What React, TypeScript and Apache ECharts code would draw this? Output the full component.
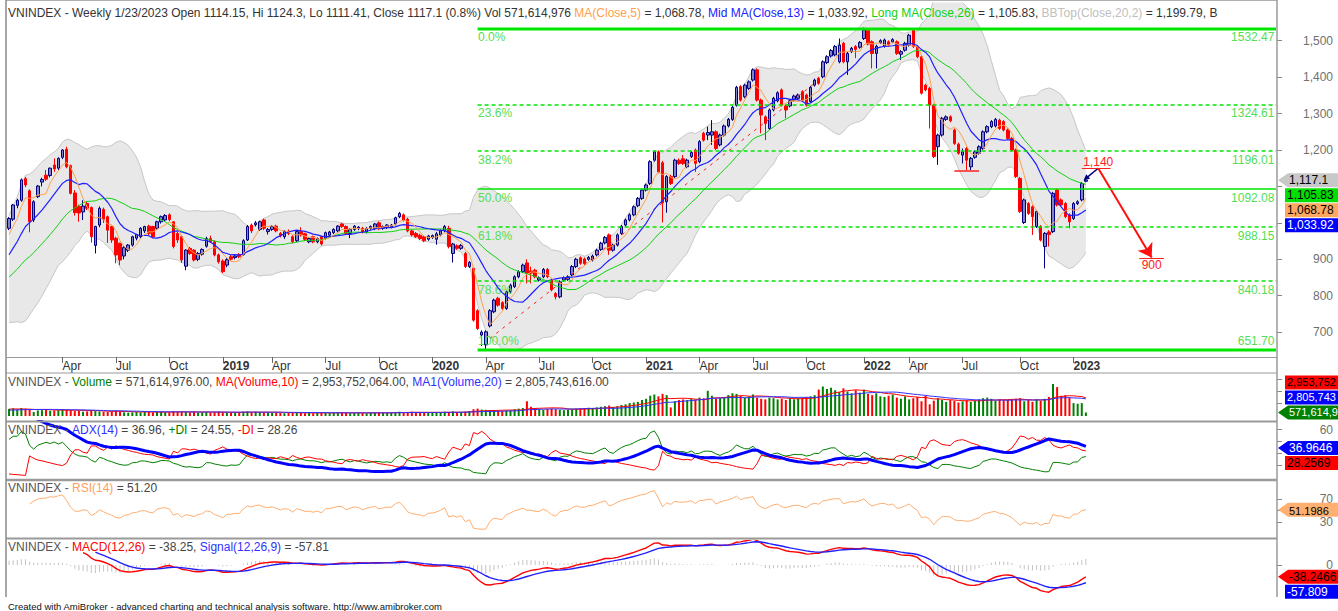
import React, { useEffect, useRef } from "react";
import * as echarts from "echarts";

// ---------------- data ----------------
const FIRST_FRIDAY = "2018-01-05";
const SKIPPED_FRIDAYS = ["2019-02-08", "2022-02-04"]; // Tet weeks without trading
const FUTURE_SLOTS = 46;
const MONTH_NAMES = ["Jan", "Feb", "Mar", "Apr", "May", "Jun", "Jul", "Aug", "Sep", "Oct", "Nov", "Dec"];

// hidden warm-up weeks (Jul-Dec 2017): [open, high, low, close]
const warmupOHLC = [
  [770, 782, 764, 776], [776, 780, 768, 772], [772, 776, 765, 770], [770, 784, 766, 780], [780, 783, 771, 775],
  [775, 780, 770, 775], [775, 786, 771, 782], [782, 790, 778, 785], [785, 800, 781, 797], [797, 809, 792, 805],
  [805, 812, 801, 808], [808, 811, 800, 803], [803, 808, 799, 804], [804, 814, 801, 810], [810, 817, 806, 813],
  [813, 829, 809, 825], [825, 841, 821, 837], [837, 855, 833, 850], [850, 870, 845, 865], [866, 930, 862, 925],
  [925, 958, 920, 952], [952, 960, 947, 955], [955, 958, 930, 935], [935, 964, 930, 960], [960, 963, 945, 950],
  [950, 988, 946, 984],
];
const warmupVolume = [700, 650, 600, 650, 600, 650, 700, 650, 750, 800, 750, 700, 700, 750, 800, 850, 900, 1000, 1100, 1300, 1400, 1200, 1000, 1050, 900, 1100];

// weekly [open, high, low, close]
const ohlc2018 = [
  [985, 1016, 980, 1012], [1010, 1052, 1005, 1049], [1048, 1066, 1040, 1062], [1062, 1122, 1058, 1118], [1121, 1126, 1098, 1104],
  [1088, 1092, 974, 1003], [1008, 1062, 1002, 1058], [1072, 1104, 1068, 1101], [1112, 1124, 1100, 1119], [1131, 1145, 1115, 1120],
  [1130, 1152, 1125, 1150], [1159, 1177, 1140, 1148], [1150, 1180, 1145, 1177], [1180, 1202, 1175, 1200], [1202, 1209, 1150, 1154],
  [1157, 1160, 1078, 1081], [1082, 1090, 1020, 1028], [1045, 1050, 1003, 1027], [1030, 1062, 1008, 1046], [1053, 1058, 1035, 1040],
  [1042, 1045, 946, 962], [938, 992, 916, 990], [994, 1045, 988, 1040], [1037, 1042, 1000, 1010], [1017, 1020, 945, 980],
  [990, 992, 945, 953], [958, 962, 889, 912], [944, 946, 884, 898], [909, 936, 900, 932], [925, 942, 920, 939],
  [939, 965, 935, 962], [958, 970, 952, 968], [962, 988, 958, 985], [978, 992, 972, 990], [991, 995, 965, 971],
  [990, 992, 958, 962], [985, 1006, 980, 1003], [1003, 1020, 998, 1017], [1008, 1024, 1004, 1020], [1022, 1026, 1004, 1009],
  [1003, 1005, 930, 935], [971, 975, 945, 953], [962, 966, 890, 898], [881, 928, 870, 925], [930, 934, 912, 916],
  [925, 928, 894, 898], [900, 920, 895, 916], [914, 930, 910, 927], [936, 962, 932, 957], [957, 965, 945, 948],
  [948, 952, 908, 912], [912, 916, 888, 893],
];
const ohlc2019 = [
  [895, 900, 862, 866], [884, 903, 878, 899], [907, 912, 896, 900], [905, 912, 900, 909], [913, 917, 903, 907],
  [913, 955, 910, 951], [953, 994, 950, 990], [994, 998, 972, 978], [995, 1005, 990, 1000], [982, 1006, 978, 1003],
  [1008, 1012, 980, 985], [976, 986, 968, 982], [982, 994, 978, 990], [991, 995, 974, 978], [971, 975, 960, 964],
  [962, 980, 956, 976], [977, 982, 966, 971], [962, 966, 944, 948], [951, 980, 947, 976], [976, 988, 962, 967],
  [970, 973, 950, 955], [948, 960, 944, 957], [962, 965, 944, 948], [948, 960, 944, 957], [962, 965, 938, 942],
  [958, 976, 954, 973], [966, 978, 962, 975], [973, 985, 969, 982], [978, 994, 974, 991], [997, 1000, 986, 990],
  [990, 993, 967, 971], [971, 985, 958, 982], [982, 994, 978, 991], [985, 991, 980, 988], [985, 989, 971, 975],
  [975, 988, 971, 985], [985, 993, 981, 990], [984, 1000, 980, 997], [1000, 1004, 980, 984], [985, 993, 981, 990],
  [987, 997, 983, 994], [989, 997, 985, 994], [997, 1017, 993, 1014], [1017, 1030, 1013, 1026], [1022, 1026, 1004, 1008],
  [1010, 1014, 974, 978], [978, 982, 963, 967], [971, 975, 958, 962], [966, 970, 953, 957], [962, 966, 947, 951],
  [955, 967, 951, 964], [960, 968, 956, 965],
];
const ohlc2020 = [
  [955, 975, 940, 970], [967, 982, 963, 978], [978, 994, 974, 990], [985, 992, 930, 935], [916, 945, 891, 942],
  [937, 941, 926, 930], [930, 942, 926, 938], [916, 920, 876, 880], [880, 895, 876, 891], [875, 879, 729, 733],
  [759, 763, 706, 710], [692, 705, 662, 700], [665, 705, 652, 701], [717, 763, 713, 759], [756, 792, 752, 788],
  [793, 797, 770, 774], [781, 785, 761, 765], [765, 815, 761, 811], [811, 833, 807, 829], [825, 856, 821, 852],
  [852, 870, 848, 866], [866, 888, 862, 884], [890, 900, 834, 861], [868, 880, 834, 862], [870, 874, 848, 852],
  [843, 853, 839, 849], [852, 876, 848, 872], [872, 876, 848, 852], [843, 847, 812, 816], [806, 810, 790, 797],
  [797, 842, 793, 838], [843, 853, 839, 849], [845, 856, 841, 852], [857, 884, 853, 880], [880, 904, 876, 900],
  [904, 908, 885, 889], [901, 905, 884, 888], [900, 909, 896, 905], [898, 913, 894, 909], [912, 929, 908, 925],
  [927, 948, 923, 944], [945, 964, 941, 960], [967, 971, 912, 925], [925, 943, 921, 939], [939, 971, 935, 967],
  [971, 994, 967, 990], [994, 1012, 990, 1008], [1008, 1026, 1004, 1022], [1022, 1048, 1018, 1044], [1047, 1071, 1043, 1067],
  [1067, 1094, 1063, 1090], [1090, 1108, 1086, 1104],
];
const ohlc2021 = [
  [1108, 1172, 1104, 1168], [1172, 1199, 1168, 1195], [1195, 1199, 1136, 1140], [1165, 1170, 1001, 1055], [1058, 1131, 1028, 1127],
  [1127, 1132, 1104, 1108], [1127, 1176, 1123, 1172], [1172, 1177, 1159, 1163], [1176, 1186, 1159, 1163], [1154, 1176, 1150, 1172],
  [1182, 1197, 1178, 1193], [1200, 1204, 1140, 1163], [1168, 1227, 1164, 1223], [1246, 1250, 1223, 1227], [1241, 1264, 1227, 1248],
  [1241, 1282, 1214, 1250], [1250, 1254, 1200, 1204], [1214, 1245, 1210, 1241], [1241, 1270, 1237, 1266], [1266, 1288, 1262, 1284],
  [1284, 1321, 1280, 1317], [1323, 1376, 1319, 1372], [1374, 1378, 1333, 1337], [1346, 1382, 1342, 1378], [1369, 1391, 1365, 1387],
  [1392, 1424, 1388, 1420], [1420, 1424, 1333, 1337], [1337, 1341, 1246, 1296], [1291, 1295, 1227, 1273], [1259, 1314, 1255, 1310],
  [1310, 1346, 1306, 1342], [1335, 1361, 1331, 1357], [1365, 1369, 1319, 1323], [1321, 1325, 1287, 1310], [1321, 1339, 1317, 1335],
  [1337, 1352, 1333, 1348], [1342, 1355, 1338, 1351], [1360, 1364, 1333, 1337], [1351, 1355, 1319, 1323], [1333, 1376, 1329, 1372],
  [1378, 1396, 1374, 1392], [1397, 1401, 1379, 1383], [1401, 1446, 1397, 1442], [1440, 1460, 1436, 1456], [1458, 1477, 1454, 1473],
  [1461, 1488, 1457, 1484], [1442, 1506, 1438, 1488], [1493, 1497, 1438, 1442], [1442, 1469, 1406, 1465], [1470, 1483, 1466, 1479],
  [1484, 1488, 1452, 1476], [1482, 1499, 1478, 1495],
];
const ohlc2022 = [
  [1506, 1536, 1502, 1529], [1529, 1533, 1487, 1491], [1497, 1501, 1424, 1465], [1465, 1489, 1424, 1485], [1495, 1504, 1491, 1500],
  [1485, 1506, 1481, 1502], [1497, 1501, 1484, 1488], [1497, 1507, 1493, 1503], [1497, 1501, 1461, 1465], [1463, 1474, 1447, 1470],
  [1474, 1497, 1470, 1493], [1488, 1519, 1484, 1515], [1529, 1532, 1480, 1484], [1484, 1488, 1452, 1456], [1456, 1460, 1352, 1356],
  [1378, 1382, 1361, 1365], [1369, 1373, 1259, 1323], [1323, 1327, 1178, 1182], [1209, 1245, 1159, 1241], [1241, 1291, 1237, 1287],
  [1284, 1295, 1280, 1291], [1291, 1295, 1276, 1280], [1255, 1259, 1214, 1218], [1216, 1220, 1187, 1191], [1186, 1204, 1163, 1195],
  [1204, 1208, 1145, 1172], [1154, 1181, 1145, 1177], [1180, 1199, 1176, 1195], [1191, 1213, 1187, 1209], [1204, 1254, 1200, 1250],
  [1250, 1268, 1246, 1264], [1264, 1282, 1260, 1278], [1266, 1288, 1262, 1284], [1282, 1286, 1255, 1259], [1278, 1282, 1251, 1255],
  [1255, 1259, 1228, 1232], [1232, 1236, 1196, 1200], [1200, 1204, 1123, 1127], [1122, 1126, 1027, 1031], [1001, 1067, 997, 1063],
  [1053, 1057, 1022, 1026], [1044, 1048, 967, 1017], [990, 1035, 986, 1031], [990, 994, 949, 953], [935, 975, 875, 971],
  [975, 980, 935, 968], [976, 1085, 972, 1081], [1090, 1094, 1045, 1049], [1063, 1067, 1045, 1049], [1053, 1057, 1013, 1017],
  [1022, 1026, 985, 1003], [1012, 1057, 1008, 1053], [1053, 1062, 1049, 1058], [1063, 1112, 1059, 1108], [1114.15, 1124.3, 1111.41, 1117.1],
];

// weekly volume, millions of shares
const volume2018 = [1150, 1250, 1100, 1300, 1200, 1050, 650, 900, 950, 1000, 850, 900, 950, 1100, 1050, 950, 800, 850, 700, 750, 900, 800, 750, 700, 650, 750, 850, 700, 600, 550, 600, 650, 600, 700, 650, 600, 700, 650, 600, 600, 800, 700, 750, 650, 600, 650, 550, 600, 650, 600, 650, 700];
const volume2019 = [600, 550, 500, 550, 600, 700, 750, 650, 700, 650, 600, 550, 500, 550, 500, 450, 500, 550, 550, 500, 450, 500, 450, 500, 550, 550, 500, 550, 600, 550, 500, 450, 500, 550, 500, 450, 500, 550, 600, 550, 500, 550, 650, 700, 600, 650, 700, 600, 550, 550, 500, 550];
const volume2020 = [600, 650, 700, 650, 750, 600, 650, 700, 800, 1100, 1200, 1050, 1000, 950, 900, 850, 800, 900, 950, 1100, 1200, 1300, 2400, 1500, 1300, 1100, 1000, 1150, 1200, 1100, 1000, 950, 1050, 1100, 1200, 1250, 1300, 1350, 1300, 1400, 1500, 1600, 1700, 1450, 1600, 1800, 1900, 2100, 2200, 2300, 2600, 2800];
const volume2021 = [3300, 3500, 3200, 3600, 3400, 1400, 2400, 2600, 2700, 2600, 2800, 2700, 3000, 2900, 4100, 3300, 2800, 2900, 3000, 3400, 3700, 3600, 3300, 3000, 3200, 3500, 3000, 2800, 2700, 3000, 2900, 2700, 2800, 2600, 2900, 2700, 2900, 3000, 3100, 3200, 3400, 4300, 4800, 4400, 4600, 4200, 3900, 4500, 4000, 3700, 4200, 3800];
const volume2022 = [4300, 3600, 3400, 3700, 3200, 3100, 3300, 3500, 3000, 2800, 3200, 2700, 2900, 3100, 2400, 3300, 1900, 2500, 2900, 2600, 2300, 2600, 2500, 2200, 2400, 2600, 2300, 2500, 2700, 2900, 3000, 2800, 2500, 2700, 2600, 2600, 2700, 2800, 2900, 2400, 2600, 2300, 2700, 2500, 2800, 3100, 5200, 4700, 3300, 3400, 3000, 2100, 2000, 2100, 571.6];

// Fibonacci retracement drawn on the chart
const fibPercentLabels = ["0.0%", "23.6%", "38.2%", "50.0%", "61.8%", "78.6%", "100.0%"];
const fibLevels = [1532.47, 1324.61, 1196.01, 1092.08, 988.15, 840.18, 651.7];
const fibStartBar = 114;

// hand-drawn annotations: [barIndex, price]
const trendFrom = [117, 683];
const trendTo = [196, 1383];
const supportFrom = [230, 1143];
const supportTo = [236, 1143];
const targetUpFrom = [262, 1122];
const targetUpTo = [265, 1150];
const targetDownTo = [278, 905];
const upLabel = { text: "1,140", at: [265, 1167], underlineFrom: [261, 1151], underlineTo: [268, 1151] };
const downLabel = { text: "900", at: [278, 884], overlineFrom: [275, 904], overlineTo: [281, 904] };

// tick values on right axes
const priceTicks = [700, 800, 900, 1000, 1100, 1200, 1300, 1400, 1500];
const priceLabels = [700, 800, 900, 1200, 1300, 1400, 1500];
const volumeTicks = [2000, 4000, 6000];
const adxTicks = [15, 30, 45, 60];
const adxLabels = [60];
const rsiTicks = [30, 50, 70];
const rsiLabels = [30, 70];
const macdTicks = [0];
const macdLabels = [0];

// last-value tags shown on the right edge (text as visible at the edge)
const priceTags = [
  { text: "1,117.1", value: 1117.1, bg: "#c8c8c8", fg: "#000", arrow: true },
  { text: "1,105.83", value: 1105.83, bg: "#00e000", fg: "#000", arrow: false },
  { text: "1,068.78", value: 1068.78, bg: "#ffa860", fg: "#000", arrow: false },
  { text: "1,033.92", value: 1033.92, bg: "#0000ff", fg: "#fff", arrow: false },
];
const volumeTags = [
  { text: "2,953,752", value: 2953.75, bg: "#ff0000", fg: "#000", arrow: false },
  { text: "2,805,743", value: 2805.74, bg: "#0000ff", fg: "#fff", arrow: false },
  { text: "571,614,9", value: 571.6, bg: "#008000", fg: "#fff", arrow: true },
];
const adxTags = [
  { text: "36.9646", value: 36.96, bg: "#0000ff", fg: "#fff", arrow: true },
  { text: "28.2569", value: 28.26, bg: "#ff0000", fg: "#000", arrow: false },
];
const rsiTags = [{ text: "51.1986", value: 51.2, bg: "#ffb070", fg: "#000", arrow: true }];
const macdTags = [
  { text: "-38.2466", value: -38.25, bg: "#ff0000", fg: "#000", arrow: true },
  { text: "-57.809", value: -57.81, bg: "#0000ff", fg: "#fff", arrow: false },
];

// where AmiBroker starts drawing each oscillator (visible bar index)
const LINE_START = { rsi: 5, adx: 6, macd: 18, signal: 21 };

// ---------------- helpers ----------------
const FONT = "'Liberation Sans', Arial, sans-serif";
const FIB_LINE = "#00e600";
const FIB_TEXT = "#55dd55";

function sma(a: number[], n: number) {
  return a.map((_, i) => {
    if (i < n - 1) return null;
    let s = 0;
    for (let k = i - n + 1; k <= i; k++) s += a[k];
    return s / n;
  });
}
function stdev(a: number[], n: number) {
  return a.map((_, i) => {
    if (i < n - 1) return null;
    let s = 0;
    for (let k = i - n + 1; k <= i; k++) s += a[k];
    const m = s / n;
    let q = 0;
    for (let k = i - n + 1; k <= i; k++) q += (a[k] - m) * (a[k] - m);
    return Math.sqrt(q / n);
  });
}
function ema(a: number[], n: number) {
  const k = 2 / (n + 1);
  let prev = a[0];
  return a.map((v, i) => (i === 0 ? (prev = v) : (prev = v * k + prev * (1 - k))));
}
function rsi(c: number[], n: number) {
  const out: (number | null)[] = c.map(() => null);
  let ag = 0, al = 0;
  for (let i = 1; i < c.length; i++) {
    const d = c[i] - c[i - 1];
    const g = Math.max(d, 0), l = Math.max(-d, 0);
    if (i <= n) {
      ag += g / n; al += l / n;
      if (i === n) out[i] = 100 - 100 / (1 + ag / al);
    } else {
      ag = (ag * (n - 1) + g) / n; al = (al * (n - 1) + l) / n;
      out[i] = al === 0 ? 100 : 100 - 100 / (1 + ag / al);
    }
  }
  return out;
}
function adx(h: number[], l: number[], c: number[], n: number) {
  const len = c.length;
  const pdi: (number | null)[] = Array(len).fill(null);
  const mdi: (number | null)[] = Array(len).fill(null);
  const ax: (number | null)[] = Array(len).fill(null);
  let trS = 0, pS = 0, mS = 0, acc = 0, prev = 0;
  for (let i = 1; i < len; i++) {
    const tr = Math.max(h[i] - l[i], Math.abs(h[i] - c[i - 1]), Math.abs(l[i] - c[i - 1]));
    const up = h[i] - h[i - 1], dn = l[i - 1] - l[i];
    const pdm = up > dn && up > 0 ? up : 0;
    const mdm = dn > up && dn > 0 ? dn : 0;
    if (i <= n) { trS += tr; pS += pdm; mS += mdm; }
    else { trS = trS - trS / n + tr; pS = pS - pS / n + pdm; mS = mS - mS / n + mdm; }
    if (i >= n) {
      const p = (100 * pS) / trS, m = (100 * mS) / trS;
      pdi[i] = p; mdi[i] = m;
      const dx = p + m === 0 ? 0 : (100 * Math.abs(p - m)) / (p + m);
      if (i < 2 * n - 1) acc += dx;
      else if (i === 2 * n - 1) { acc += dx; prev = acc / n; ax[i] = prev; }
      else { prev = (prev * (n - 1) + dx) / n; ax[i] = prev; }
    }
  }
  return { pdi, mdi, ax };
}

function buildCategories(count: number) {
  const skip = new Set(SKIPPED_FRIDAYS);
  const out: string[] = [];
  let t = Date.parse(FIRST_FRIDAY + "T00:00:00Z");
  while (out.length < count) {
    const s = new Date(t).toISOString().slice(0, 10);
    if (!skip.has(s)) out.push(s);
    t += 7 * 86400000;
  }
  return out;
}

type Tag = { text: string; value: number; bg: string; fg: string; arrow: boolean };
function tagGraphics(chart: any, tags: Tag[], axisIndex: number, dir: "down" | "up", fontSize = 12, textDy = 0) {
  const H = 15;
  const ys = tags.map((t) => chart.convertToPixel({ yAxisIndex: axisIndex }, t.value) as number);
  if (dir === "down") for (let i = 1; i < ys.length; i++) ys[i] = Math.max(ys[i], ys[i - 1] + H);
  else for (let i = ys.length - 2; i >= 0; i--) ys[i] = Math.min(ys[i], ys[i + 1] - H);
  const out: any[] = [];
  tags.forEach((t, i) => {
    const y = ys[i];
    if (t.arrow) {
      out.push({
        type: "polygon", z: 100,
        shape: { points: [[1278, y], [1288, y - 7], [1340, y - 7], [1340, y + 7], [1288, y + 7]] },
        style: { fill: t.bg },
      });
    } else {
      out.push({ type: "rect", z: 100, shape: { x: 1285, y: y - 7, width: 55, height: 14 }, style: { fill: t.bg } });
    }
    out.push({
      type: "text", z: 101, x: t.arrow ? 1289 : 1287, y: y + textDy,
      style: { text: t.text, fill: t.fg, fontSize, fontFamily: FONT, verticalAlign: "middle", align: "left" },
    });
  });
  return out;
}

function fibGraphics(chart: any, lastCat: number) {
  const x1 = chart.convertToPixel({ xAxisIndex: 0 }, fibStartBar) as number;
  const x2 = chart.convertToPixel({ xAxisIndex: 0 }, lastCat) as number;
  const last = fibLevels.length - 1;
  return fibLevels.map((lvl, k) => {
    const thick = k === 0 || k === last;
    const solid = thick || k === 3;
    const y = Math.round(chart.convertToPixel({ yAxisIndex: 0 }, lvl) as number);
    return {
      type: "line", z: 45, silent: true,
      shape: { x1, y1: y, x2: Math.max(x2, 1276), y2: y },
      style: { stroke: FIB_LINE, lineWidth: thick ? 3 : 1.6, lineDash: solid ? null : [4, 3] },
    };
  });
}

function legendText(parts: [string, string][], x: number, y: number) {
  const rich: any = {};
  let text = "";
  parts.forEach(([s, color], i) => {
    rich["p" + i] = { fill: color, fontSize: 12, fontFamily: FONT };
    text += "{p" + i + "|" + s + "}";
  });
  return { type: "text", z: 50, x, y, style: { text, rich, fontSize: 12, fontFamily: FONT, verticalAlign: "middle", align: "left" } };
}

function buildOption() {
  const ohlc = [...ohlc2018, ...ohlc2019, ...ohlc2020, ...ohlc2021, ...ohlc2022];
  const vols = [...volume2018, ...volume2019, ...volume2020, ...volume2021, ...volume2022];
  const W = warmupOHLC.length;
  const N = ohlc.length;
  const all = [...warmupOHLC, ...ohlc];
  const allVol = [...warmupVolume, ...vols];
  const H = all.map((b) => b[1]), L = all.map((b) => b[2]), C = all.map((b) => b[3]);

  const cats = buildCategories(N + FUTURE_SLOTS);
  const LAST_CAT = cats.length - 1;

  // quarter ticks
  const tickLabel: Record<number, string> = {};
  for (let i = 1; i < N; i++) {
    const y = +cats[i].slice(0, 4), m = +cats[i].slice(5, 7);
    const py = +cats[i - 1].slice(0, 4), pm = +cats[i - 1].slice(5, 7);
    if (y * 4 + Math.floor((m - 1) / 3) !== py * 4 + Math.floor((pm - 1) / 3)) {
      tickLabel[i] = m === 1 ? "{y|" + y + "}" : MONTH_NAMES[m - 1];
    }
  }
  const isTick = (i: number) => tickLabel[i] !== undefined;

  const vis = (a: (number | null)[], start = 0) => a.slice(W).map((v, i) => (i < start || v == null ? null : +v.toFixed(3)));

  const ma5 = vis(sma(C, 5));
  const ma13 = vis(sma(C, 13));
  const ma26 = vis(sma(C, 26));
  const mid = sma(C, 20), sd = stdev(C, 20);
  const bbLow = vis(mid.map((m, i) => (m == null ? null : m - 2 * (sd[i] as number))));
  const bbUp = vis(mid.map((m, i) => (m == null ? null : m + 2 * (sd[i] as number))));
  const bbDiff = bbUp.map((u, i) => (u == null || bbLow[i] == null ? null : u - (bbLow[i] as number)));

  const volMA10 = vis(sma(allVol, 10));
  const volMA20 = vis(sma(allVol, 20));
  const A = adx(H, L, C, 14);
  const rsiV = vis(rsi(C, 14), LINE_START.rsi);
  const e12 = ema(C, 12), e26 = ema(C, 26);
  const macdAll = e12.map((v, i) => v - e26[i]);
  const sigAll = ema(macdAll, 9);
  const macdV = vis(macdAll, LINE_START.macd);
  const sigV = vis(sigAll, LINE_START.signal);
  const histV = vis(macdAll.map((v, i) => v - sigAll[i]));

  const candleData = ohlc.map((b) => [b[0], b[3], b[2], b[1]]);
  const volData = vols.map((v, i) => ({ value: v, itemStyle: { color: ohlc[i][3] >= ohlc[i][0] ? "#008000" : "#ff0000" } }));

  const lastFib = fibLevels.length - 1;
  const fibText = { color: FIB_TEXT, fontSize: 12, fontFamily: FONT, show: true };
  const fibMarks: any[] = [];
  fibLevels.forEach((lvl, k) => {
    const below = k !== lastFib;
    fibMarks.push({
      coord: [fibStartBar, lvl],
      label: { ...fibText, formatter: fibPercentLabels[k], position: below ? [1, 3] : [1, -2], align: "left", verticalAlign: below ? "top" : "bottom" },
    });
    fibMarks.push({
      coord: [LAST_CAT, lvl],
      label: { ...fibText, formatter: lvl.toFixed(2), position: below ? [0, 3] : [0, -2], align: "right", verticalAlign: below ? "top" : "bottom" },
    });
  });

  const seg = (a: number[], b: number[], ls: any, sym: [string, string] = ["none", "none"], size = 10) => [
    { coord: a, lineStyle: ls, symbol: sym[0], symbolSize: size },
    { coord: b, symbol: sym[1], symbolSize: size },
  ];
  const annot = [
    seg(trendFrom, trendTo, { color: "#ff2020", width: 1, type: [3, 5] }),
    seg(supportFrom, supportTo, { color: "#ff2020", width: 1.5, type: "solid" }),
    seg(targetUpFrom, targetUpTo, { color: "#000080", width: 1.5, type: "solid" }, ["triangle", "none"], 6),
    seg(targetUpTo, targetDownTo, { color: "#ff1010", width: 2, type: "solid" }, ["none", "arrow"], 13),
    seg(upLabel.underlineFrom, upLabel.underlineTo, { color: "#ff2020", width: 1, type: "solid" }),
    seg(downLabel.overlineFrom, downLabel.overlineTo, { color: "#ff2020", width: 1, type: "solid" }),
  ];

  const gridBase = { left: 7, right: 61, containLabel: false };
  const grids = [
    { ...gridBase, top: 3, height: 354 },
    { ...gridBase, top: 373, height: 43 },
    { ...gridBase, top: 421.6, height: 56 },
    { ...gridBase, top: 482.2, height: 56.7 },
    { ...gridBase, top: 540.4, height: 55.3 },
  ];
  const xAxes: any[] = grids.map((_, gi) => ({
    type: "category", gridIndex: gi, data: cats, boundaryGap: true,
    show: gi === 0,
    axisLine: { show: gi === 0, lineStyle: { color: "#9a9a9a", width: 1 } },
    axisTick: { show: gi === 0, interval: (i: number) => isTick(i), alignWithLabel: true, length: 6, lineStyle: { color: "#666" } },
    axisLabel: {
      show: gi === 0, interval: (i: number) => isTick(i), formatter: (_v: string, i: number) => tickLabel[i] || "",
      align: "left", margin: 3, color: "#333", fontSize: 12, fontFamily: FONT,
      rich: { y: { fontWeight: "bold", fontSize: 12, color: "#333", fontFamily: FONT } },
    },
    splitLine: { show: false },
  }));
  const yAx = (gi: number, min: number, max: number, ticks: number[], labels: number[], fmt?: (v: number) => string) => ({
    type: "value", gridIndex: gi, position: "right", min, max, scale: true,
    axisLine: { show: false },
    axisTick: { show: true, customValues: ticks, length: 5, lineStyle: { color: "#888" } },
    axisLabel: {
      show: labels.length > 0, customValues: labels, align: "right", margin: 56, color: "#707070", fontSize: 12, fontFamily: FONT,
      formatter: fmt || ((v: number) => String(v)),
    },
    splitLine: { show: false },
  });
  const yAxes = [
    yAx(0, 631.8, 1603.5, priceTicks, priceLabels, (v) => v.toLocaleString("en-US")),
    yAx(1, 0, 7000, volumeTicks, []),
    yAx(2, 0, 70, adxTicks, adxLabels),
    yAx(3, 0, 100, rsiTicks, rsiLabels),
    yAx(4, -100, 80, macdTicks, macdLabels),
  ];

  const line = (name: string, data: any[], color: string, width: number, xi: number, z = 3, extra: any = {}) => ({
    name, type: "line", xAxisIndex: xi, yAxisIndex: xi, data, symbol: "none", z,
    lineStyle: { color, width }, itemStyle: { color }, silent: true, connectNulls: false, ...extra,
  });

  const series: any[] = [
    line("BBLow", bbLow, "#c6c6c6", 1, 0, 1, { stack: "bb" }),
    line("BBUp", bbDiff, "#c6c6c6", 1, 0, 1, { stack: "bb", areaStyle: { color: "#e8e8e8", opacity: 1 } }),
    {
      name: "Price", type: "candlestick", xAxisIndex: 0, yAxisIndex: 0, data: candleData, barWidth: 3, z: 2,
      itemStyle: { color: "#8282c4", color0: "#ff0000", borderColor: "#000080", borderColor0: "#ff0000", borderWidth: 1 },
      markLine: {
        silent: true, symbol: ["none", "none"], label: { show: false },
        emphasis: { disabled: true }, data: annot, z: 4,
      },
      markPoint: {
        silent: true, symbol: "rect", symbolSize: 1, itemStyle: { color: "rgba(0,0,0,0)" },
        label: { show: true, color: "#ff2020", fontSize: 12, fontFamily: FONT, position: "inside" },
        data: [
          { coord: upLabel.at, label: { formatter: upLabel.text } },
          { coord: downLabel.at, label: { formatter: downLabel.text } },
          ...fibMarks,
        ],
      },
    },
    line("MA26", ma26, "#10d010", 1, 0, 5),
    line("MA13", ma13, "#2020ff", 1.2, 0, 5),
    line("MA5", ma5, "#ffa04a", 1, 0, 5),
    { name: "Volume", type: "bar", xAxisIndex: 1, yAxisIndex: 1, data: volData, barWidth: 2, silent: true, z: 2 },
    line("VolMA10", volMA10, "#ff0000", 1, 1, 3),
    line("VolMA20", volMA20, "#3030ff", 1, 1, 3),
    line("PDI", vis(A.pdi), "#008000", 1, 2, 3),
    line("MDI", vis(A.mdi), "#ff0000", 1, 2, 3),
    line("ADX", vis(A.ax, LINE_START.adx), "#0000ff", 3, 2, 4),
    line("RSI", rsiV, "#ffae70", 1, 3, 3),
    { name: "Hist", type: "bar", xAxisIndex: 4, yAxisIndex: 4, data: histV, barWidth: 1, itemStyle: { color: "#c4c4c4" }, silent: true, z: 1 },
    line("MACD", macdV, "#ff0000", 1.4, 4, 3),
    line("Signal", sigV, "#2020ff", 1.4, 4, 4),
  ];

  return { option: { animation: false, backgroundColor: "#ffffff", grid: grids, xAxis: xAxes, yAxis: yAxes, series }, lastCat: LAST_CAT };
}

function staticGraphics() {
  const g: any[] = [];
  const hl = (y: number, w: number, c = "#9a9a9a") => ({ type: "line", z: 40, shape: { x1: 6, y1: y, x2: 1277, y2: y }, style: { stroke: c, lineWidth: w } });
  g.push(hl(0.5, 1, "#b0b0b0"), hl(373, 1), hl(421.5, 2), hl(480, 2.5), hl(538.5, 2));
  g.push({ type: "line", z: 40, shape: { x1: 6, y1: 0, x2: 6, y2: 597 }, style: { stroke: "#8a8a8a", lineWidth: 1.5 } });
  g.push({ type: "line", z: 40, shape: { x1: 1277, y1: 0, x2: 1277, y2: 597 }, style: { stroke: "#9a9a9a", lineWidth: 1.5 } });
  const dk = "#333333";
  g.push(legendText([
    ["VNINDEX - Weekly 1/23/2023 Open 1114.15, Hi 1124.3, Lo 1111.41, Close 1117.1 (0.8%) Vol 571,614,976 ", dk],
    ["MA(Close,5)", "#ffa04a"], [" = 1,068.78, ", dk],
    ["Mid MA(Close,13)", "#2020ff"], [" = 1,033.92, ", dk],
    ["Long MA(Close,26)", "#10d010"], [" = 1,105.83, ", dk],
    ["BBTop(Close,20,2)", "#c0c0c0"], [" = 1,199.79, B", dk],
  ], 8, 13));
  g.push(legendText([
    ["VNINDEX - ", "#555"], ["Volume", "#008000"], [" = 571,614,976.00, ", "#444"],
    ["MA(Volume,10)", "#ff0000"], [" = 2,953,752,064.00, ", "#444"],
    ["MA1(Volume,20)", "#3030ff"], [" = 2,805,743,616.00", "#444"],
  ], 8, 382));
  g.push(legendText([
    ["VNINDEX - ", "#555"], ["ADX(14)", "#3030ff"], [" = 36.96, ", "#444"],
    ["+DI", "#008000"], [" = 24.55, ", "#444"], ["-DI", "#ff0000"], [" = 28.26", "#444"],
  ], 8, 430));
  g.push(legendText([["VNINDEX - ", "#555"], ["RSI(14)", "#ffa060"], [" = 51.20", "#444"]], 8, 488));
  g.push(legendText([
    ["VNINDEX - ", "#555"], ["MACD(12,26)", "#ff0000"], [" = -38.25, ", "#444"],
    ["Signal(12,26,9)", "#3030ff"], [" = -57.81", "#444"],
  ], 8, 547));
  g.push({
    type: "text", z: 50, x: 8, y: 606,
    style: { text: "Created with AmiBroker - advanced charting and technical analysis software. http://www.amibroker.com", fill: "#111", fontSize: 9.5, fontFamily: FONT, verticalAlign: "middle" },
  });
  return g;
}

export default function App() {
  const ref = useRef<HTMLDivElement>(null);
  useEffect(() => {
    if (!ref.current) return;
    const chart = echarts.init(ref.current, null, { renderer: "svg" });
    const { option, lastCat } = buildOption();
    chart.setOption(option);
    const graphics = [
      ...staticGraphics(),
      ...fibGraphics(chart, lastCat),
      ...tagGraphics(chart, priceTags, 0, "down"),
      ...tagGraphics(chart, volumeTags, 1, "up", 11),
      ...tagGraphics(chart, adxTags, 2, "down"),
      ...tagGraphics(chart, rsiTags, 3, "down", 11, 1.5),
      ...tagGraphics(chart, macdTags, 4, "down"),
    ];
    chart.setOption({ graphic: graphics });
    return () => chart.dispose();
  }, []);
  return <div ref={ref} style={{ position: "fixed", left: 0, top: 0, width: 1338, height: 611, background: "#fff" }} />;
}
